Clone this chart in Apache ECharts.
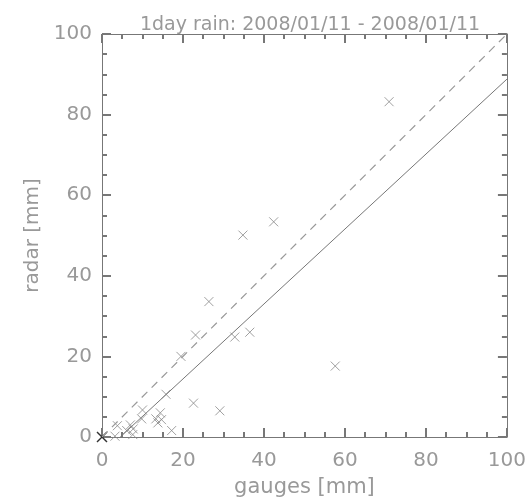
<!DOCTYPE html>
<html>
<head>
<meta charset="utf-8">
<script src="https://cdn.jsdelivr.net/npm/echarts@6/dist/echarts.min.js"></script>
<style>html,body{margin:0;padding:0;background:#fff}#c{width:529px;height:503px}</style>
</head>
<body>
<div id="c"></div>
<script>
const titleText = '1day rain: 2008/01/11 - 2008/01/11';
const xName = 'gauges [mm]';
const yName = 'radar [mm]';
const axisMin = 0, axisMax = 100, axisInterval = 20;
// gauge vs radar pairs (mm)
const gauges = [0, 3.2, 3.8, 6.1, 7.0, 7.7, 7.6, 9.8, 10.0, 13.3, 13.8, 14.4, 14.7, 17.2, 15.8, 22.6, 29.1, 19.5, 23.1, 32.8, 36.5, 26.4, 34.8, 42.4, 57.6, 70.9];
const radar  = [0, 0.2, 2.8, 1.6, 3.0, 2.0, 0.6, 4.5, 6.7, 4.5, 3.5, 6.0, 4.3, 1.6, 10.6, 8.4, 6.5, 20.0, 25.3, 24.8, 26.0, 33.6, 50.1, 53.4, 17.6, 83.2];
const originPoint = [[0, 0]];
const oneToOne = [[0, 0], [100, 100]];
const fitLine = [[4.5, 0], [100, 88.8]];

const pts = gauges.map((g, i) => [g, radar[i]]);
const font = 'DejaVu Sans';
const axisCol = '#777';
const labelCol = '#999';
const cross = 'path://M0,0L10,10M10,0L0,10';

function ax(extra) {
  return Object.assign({
    type: 'value', min: axisMin, max: axisMax, interval: axisInterval,
    splitLine: { show: false },
    axisLine: { show: true, onZero: false, lineStyle: { color: axisCol } },
    axisTick: { show: true, inside: true, length: 9, lineStyle: { color: axisCol, width: 2 } },
    minorTick: { show: true, splitNumber: 4, length: 5, lineStyle: { color: axisCol, width: 2 } }
  }, extra);
}

const chart = echarts.init(document.getElementById('c'));
chart.setOption({
  animation: false,
  title: {
    text: titleText, left: 305, top: 11, textAlign: 'center',
    textStyle: { fontFamily: font, fontSize: 19, fontWeight: 'normal', color: labelCol }
  },
  grid: { left: 102, right: 21, top: 34, bottom: 65 },
  xAxis: [
    ax({
      position: 'bottom', name: xName, nameLocation: 'middle', nameGap: 40,
      nameTextStyle: { fontFamily: font, fontSize: 21, color: labelCol },
      axisLabel: { fontFamily: font, fontSize: 20, color: labelCol, margin: 14 }
    }),
    ax({ position: 'top', axisLabel: { show: false } })
  ],
  yAxis: [
    ax({
      position: 'left', name: yName, nameLocation: 'middle', nameGap: 58,
      nameTextStyle: { fontFamily: font, fontSize: 20, color: labelCol },
      axisLabel: { fontFamily: font, fontSize: 20, color: labelCol, margin: 10 }
    }),
    ax({ position: 'right', axisLabel: { show: false } })
  ],
  series: [
    {
      type: 'line', data: oneToOne, showSymbol: false, symbol: 'none',
      lineStyle: { color: '#999', width: 1.2, type: [8, 6] }
    },
    {
      type: 'line', data: fitLine, showSymbol: false, symbol: 'none',
      lineStyle: { color: '#777', width: 1 }
    },
    {
      type: 'scatter', data: pts, symbol: cross, symbolSize: 9,
      itemStyle: { color: 'transparent', borderColor: '#888', borderWidth: 1 }
    },
    {
      type: 'scatter', data: originPoint, symbol: cross, symbolSize: 10,
      itemStyle: { color: 'transparent', borderColor: '#111', borderWidth: 1.5 }
    }
  ]
});
</script>
</body>
</html>
